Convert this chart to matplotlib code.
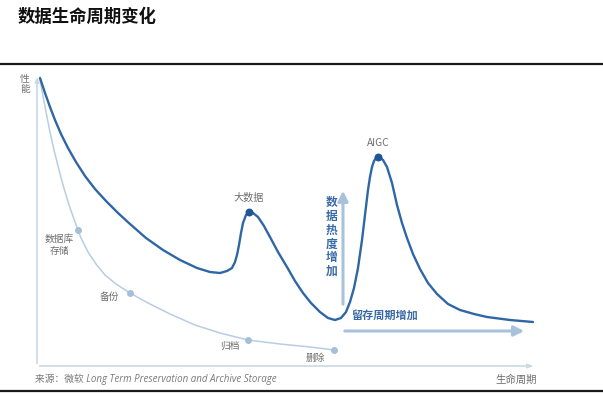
import matplotlib.pyplot as plt
from matplotlib.lines import Line2D

plt.rcParams['font.family'] = ['Noto Sans CJK SC', 'DejaVu Sans']

# Данные: основная кривая (жизненный цикл / производительность)
life_x = [3, 8, 13, 18, 24, 31, 39, 48, 58, 69, 81, 93, 109, 126, 143, 160, 173, 183, 190, 195,
          198, 200, 202, 204, 206, 209, 212, 216, 221, 227, 233, 241, 250, 258, 266, 274, 283,
          291, 298, 304, 309, 313, 317, 321, 325, 328, 331, 333, 335, 337, 339, 341, 343, 346,
          350, 355, 360, 365, 370, 376, 383, 391, 400, 411, 423, 437, 450, 473, 496]
life_y = [288, 273, 259, 246, 232, 218, 204, 190, 177, 165, 153, 142, 128, 116, 106, 98, 94, 93, 95, 98,
          104, 111, 121, 133, 143, 151, 154, 153, 149, 140, 129, 114, 99, 85, 73, 63, 54,
          48, 46, 48, 54, 64, 78, 98, 126, 151, 176, 189, 199, 205, 208, 209, 208.5, 206,
          199, 183, 161, 143, 128, 112, 97, 83, 72, 62, 56, 52, 49, 46, 44]

# Светлая кривая: уровни хранения
store_x = [3, 6, 9, 13, 17, 21, 26, 32, 38, 44, 51, 59, 68, 79, 93, 111, 133, 158, 183, 211, 243, 273, 297]
store_y = [286, 270, 254, 234, 216, 200, 181, 161, 144, 128, 114, 102, 91, 82, 73, 63, 52, 41, 33, 26, 22, 19, 16]

stage_x = [41, 93, 211, 297]
stage_y = [136, 73, 26, 16]
stage_labels = ['数据库\n存储', '备份', '归档', '删除']
stage_offsets = [(-19, -15), (-21, -4), (-18, -6), (-19, -8)]

peak_x = [212, 341]
peak_y = [154, 209]
peak_labels = ['大数据', 'AIGC']

DARK = '#2f66a6'
LIGHT = '#b9cde2'
ARROW = '#a9c2db'
GRAY = '#6e6e6e'
TXT_BLUE = '#3a6aa6'

fig = plt.figure(figsize=(6.03, 3.96), dpi=100)

# Заголовок и горизонтальные линии
fig.text(18 / 603, 1 - 17 / 396, '数据生命周期变化', fontsize=12.5, fontweight='bold',
         va='center', ha='left', color='#111111')
fig.add_artist(Line2D([0, 1], [1 - 64 / 396, 1 - 64 / 396], color='#1a1a1a', lw=1.6))
fig.add_artist(Line2D([0, 1], [1 - 391 / 396, 1 - 391 / 396], color='#1a1a1a', lw=1.6))

ax = fig.add_axes([37 / 603, 30 / 396, 498 / 603, 291 / 396])
ax.set_xlim(0, 498)
ax.set_ylim(0, 291)
ax.axis('off')

# Оси со стрелками
ax.annotate('', xy=(0, 292), xytext=(0, 0),
            arrowprops=dict(arrowstyle='-|>,head_length=0.3,head_width=0.12', color='#c9d9e8', lw=1.2),
            annotation_clip=False)
ax.annotate('', xy=(499, 0), xytext=(0, 0),
            arrowprops=dict(arrowstyle='-|>,head_length=0.3,head_width=0.12', color='#c9d9e8', lw=1.2),
            annotation_clip=False)

# Кривые
ax.plot(store_x, store_y, color=LIGHT, lw=1.1, solid_capstyle='round', solid_joinstyle='round')
ax.plot(life_x, life_y, color=DARK, lw=1.7, solid_capstyle='round', solid_joinstyle='round')

ax.scatter(stage_x, stage_y, s=16, color='#a6bfd9', zorder=3)
for x, y, lab, off in zip(stage_x, stage_y, stage_labels, stage_offsets):
    ax.annotate(lab, (x, y), xytext=off, textcoords='offset pixels', ha='center', va='center',
                fontsize=7, color=GRAY, linespacing=1.2)

ax.scatter(peak_x, peak_y, s=22, color='#1f5598', zorder=4)
for x, y, lab in zip(peak_x, peak_y, peak_labels):
    ax.annotate(lab, (x, y), xytext=(0, 14), textcoords='offset pixels', ha='center', va='center',
                fontsize=7.3, color=GRAY)

# Стрелки: рост "горячести" данных и срока хранения
ax.annotate('', xy=(306, 178), xytext=(306, 59),
            arrowprops=dict(arrowstyle='-|>,head_length=0.6,head_width=0.3', color=ARROW, lw=2.2))
ax.annotate('', xy=(490, 35), xytext=(305, 35),
            arrowprops=dict(arrowstyle='-|>,head_length=0.6,head_width=0.3', color=ARROW, lw=2.2))
ax.text(295, 129, '\n'.join('数据热度增加'), ha='center', va='center', fontsize=8.5,
        fontweight='bold', color=TXT_BLUE, linespacing=1.08)
ax.text(348, 51, '留存周期增加', ha='center', va='center', fontsize=8,
        fontweight='bold', color=TXT_BLUE)

# Подписи осей и источник
fig.text(25 / 603, 1 - 84 / 396, '性\n能', ha='center', va='center', fontsize=7, color=GRAY,
         linespacing=1.1)
fig.text(537 / 603, 1 - 380 / 396, '生命周期', ha='right', va='center', fontsize=7.5, color=GRAY)
fig.text(35 / 603, 1 - 379 / 396, '来源：微软 Long Term Preservation and Archive Storage',
         ha='left', va='center', fontsize=7, color='#7a7a7a', style='italic',
         family=['Open Sans', 'Noto Sans CJK SC'])

fig.savefig('out.png', dpi=100)
